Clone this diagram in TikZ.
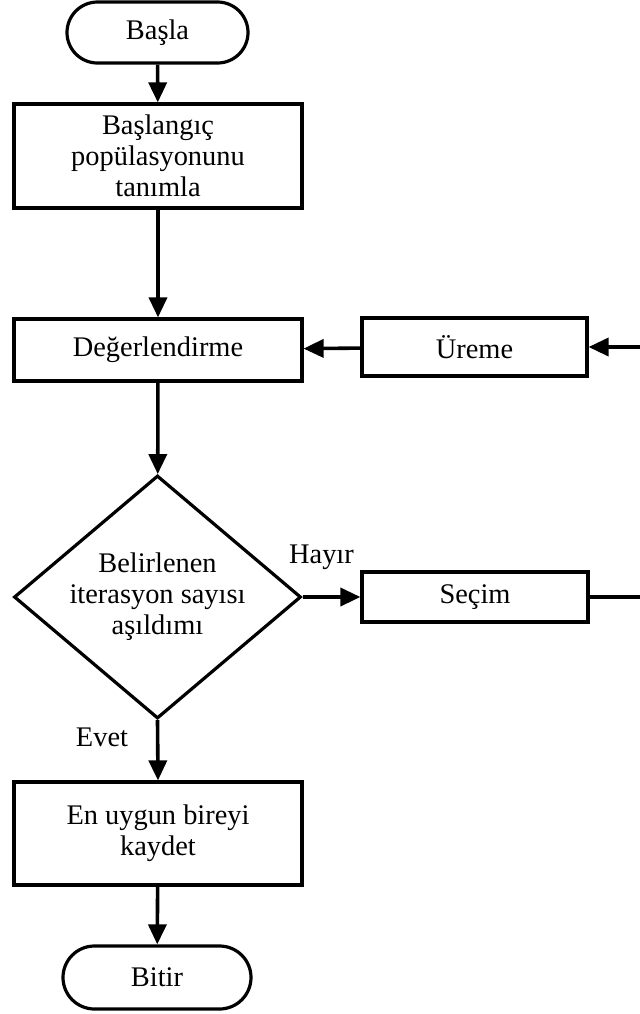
\documentclass[tikz,border=0pt]{standalone}
\usepackage{fontspec}
\setmainfont{Liberation Serif}
\usetikzlibrary{shapes.geometric,shapes.misc,arrows.meta}
\begin{document}
\begin{tikzpicture}[x=0.5pt,y=-0.5pt,
    font=\fontsize{14.2}{15.5}\selectfont,
    kutu/.style={shape=rectangle,draw=black,line width=1.6pt,align=center,inner sep=0pt},
    uc/.style={shape=rounded rectangle,draw=black,line width=1.6pt,inner sep=0pt},
    ok/.style={draw=black,line width=1.8pt,-{Triangle[length=10pt,width=9pt]}}]
    \useasboundingbox (0,0) rectangle (640,1014);

    \node[uc,minimum width=90.5pt,minimum height=30.5pt] (basla) at (157.5,32.5){Başla};
    \node[kutu,minimum width=144pt,minimum height=52pt] (tanim) at (158,156){Başlangıç\\popülasyonunu\\tanımla};
    \node[kutu,minimum width=144pt,minimum height=31pt] (deger) at (158,350){Değerlendirme};
    \node[kutu,minimum width=112.5pt,minimum height=29pt] (ureme) at (474.5,347){Üreme};
    \node[shape=diamond,draw=black,line width=1.6pt,align=center,inner sep=0pt,shape aspect=1.18,
        minimum width=143.5pt,minimum height=121.5pt] (karar) at (157.5,597){Belirlenen\\iterasyon sayısı\\aşıldımı};
    \node[kutu,minimum width=113pt,minimum height=25pt] (secim) at (475,597){Seçim};
    \node[kutu,minimum width=144pt,minimum height=51.5pt] (kaydet) at (158,833.5){En uygun bireyi\\kaydet};
    \node[uc,minimum width=94pt,minimum height=31.5pt] (bitir) at (157,977.5){Bitir};

    \node (hayir) at (321.5,557){Hayır};
    \node (evet) at (102,737){Evet};

    \draw [ok] (basla) to (tanim);
    \draw [ok] (tanim) to (deger);
    \draw [ok] (deger) to (karar);
    \draw [ok] (karar.east) to (secim.west);
    \draw [ok] (karar.south) to (kaydet.north);
    \draw [ok] (kaydet) to (bitir);
    \draw [ok] (ureme) to (deger);

    % geri donus (sayfanin disinda kalir)
    \coordinate (donus) at (665,597);
    \draw [ok] (secim.east) -- (donus) |- (ureme.east);
\end{tikzpicture}
\end{document}
